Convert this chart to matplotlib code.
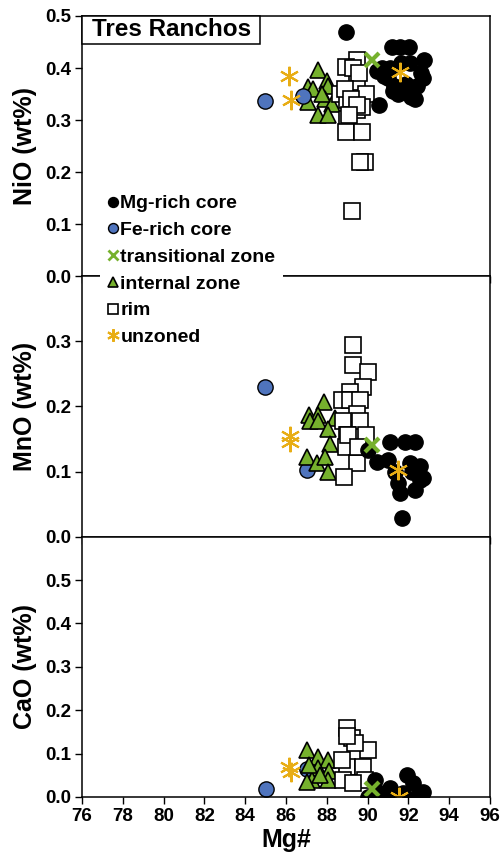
import numpy as np
import matplotlib
matplotlib.use("Agg")
import matplotlib.pyplot as plt
from matplotlib.lines import Line2D
from matplotlib.patches import Rectangle

plt.rcParams['font.family'] = ['Liberation Sans', 'DejaVu Sans']
plt.rcParams['font.weight'] = 'bold'

# ---- NiO vs Mg# ----
nio_mg_x = [88.95, 91.2, 91.6, 92.05, 92.75, 90.45, 90.7, 91.1, 91.65, 92.1, 92.6, 92.7,
            91.3, 91.9, 92.4, 91.5, 92.15, 92.3, 91.25, 90.55, 90.8, 91.0]
nio_mg_y = [0.47, 0.44, 0.44, 0.44, 0.415, 0.395, 0.40, 0.40, 0.41, 0.41, 0.39, 0.38,
            0.365, 0.37, 0.365, 0.35, 0.345, 0.34, 0.355, 0.33, 0.385, 0.38]
nio_fe_x = [84.97, 86.85]
nio_fe_y = [0.336, 0.347]
nio_tr_x = [90.2]
nio_tr_y = [0.416]
nio_int_x = [87.59, 87.99, 87.09, 88.08, 87.34, 87.09, 87.91, 88.24, 87.59, 88.08, 87.75]
nio_int_y = [0.396, 0.376, 0.363, 0.365, 0.360, 0.334, 0.341, 0.331, 0.309, 0.309, 0.35]
nio_rim_x = [89.47, 88.94, 89.47, 89.92, 88.65, 88.97, 89.47, 88.97, 89.71, 88.94, 89.71,
             89.87, 89.63, 89.22, 89.3, 89.6, 88.9, 89.2, 89.5, 89.1]
nio_rim_y = [0.415, 0.403, 0.373, 0.351, 0.351, 0.338, 0.319, 0.303, 0.325, 0.277, 0.277,
             0.219, 0.219, 0.125, 0.40, 0.39, 0.36, 0.34, 0.33, 0.31]
nio_unz_x = [86.16, 86.23, 91.59]
nio_unz_y = [0.384, 0.339, 0.393]

# ---- MnO vs Mg# ----
mno_mg_x = [90.04, 91.1, 91.83, 92.32, 90.45, 91.01, 92.08, 92.57, 92.73, 92.16, 91.5,
            92.32, 91.59, 92.57, 91.67, 91.34]
mno_mg_y = [0.133, 0.146, 0.146, 0.146, 0.115, 0.118, 0.113, 0.108, 0.090, 0.100, 0.082,
            0.072, 0.067, 0.087, 0.029, 0.100]
mno_fe_x = [84.97, 87.05]
mno_fe_y = [0.230, 0.103]
mno_tr_x = [90.2]
mno_tr_y = [0.141]
mno_int_x = [87.86, 87.14, 87.55, 87.18, 87.59, 88.4, 88.07, 88.16, 87.01, 87.5, 87.91, 88.07]
mno_int_y = [0.207, 0.187, 0.187, 0.177, 0.177, 0.182, 0.166, 0.143, 0.123, 0.113, 0.123, 0.100]
mno_rim_x = [89.3, 89.3, 90.0, 89.79, 89.14, 88.73, 89.14, 89.63, 89.5, 88.8, 89.63, 88.97,
             89.92, 88.94, 89.5, 88.84, 89.06, 89.54]
mno_rim_y = [0.295, 0.263, 0.253, 0.230, 0.222, 0.210, 0.210, 0.210, 0.189, 0.177, 0.177,
             0.156, 0.156, 0.138, 0.113, 0.091, 0.156, 0.138]
mno_unz_x = [86.18, 86.22, 91.5]
mno_unz_y = [0.155, 0.145, 0.103]

# ---- CaO vs Mg# ----
cao_mg_x = [90.04, 90.36, 91.1, 91.92, 92.24, 92.73, 90.93, 91.75, 92.4, 90.6]
cao_mg_y = [0.001, 0.039, 0.020, 0.051, 0.032, 0.012, 0.001, 0.009, 0.001, 0.009]
cao_fe_x = [85.0, 87.01]
cao_fe_y = [0.019, 0.064]
cao_tr_x = [90.2]
cao_tr_y = [0.018]
cao_int_x = [87.01, 87.59, 88.08, 87.59, 88.12, 87.26, 87.01, 88.08, 87.67, 87.14]
cao_int_y = [0.109, 0.093, 0.086, 0.066, 0.059, 0.039, 0.035, 0.039, 0.051, 0.074]
cao_rim_x = [88.97, 89.22, 90.04, 89.38, 88.97, 89.79, 88.81, 89.87, 88.73, 89.3, 88.97]
cao_rim_y = [0.159, 0.136, 0.109, 0.124, 0.070, 0.070, 0.039, 0.039, 0.086, 0.032, 0.140]
cao_unz_x = [86.15, 86.25, 91.54]
cao_unz_y = [0.068, 0.058, 0.001]

labels = ['Mg-rich core', 'Fe-rich core', 'transitional zone', 'internal zone', 'rim', 'unzoned']

blue = '#4f74bd'
green = '#76b12d'
gold = '#e8ad14'
asterisk = (6, 2, 0)

styles = {
    'mg': dict(marker='o', ms=11, mfc='black', mec='black', mew=1),
    'fe': dict(marker='o', ms=11, mfc=blue, mec='black', mew=1),
    'tr': dict(marker='x', ms=10, mfc=green, mec=green, mew=3),
    'int': dict(marker='^', ms=11, mfc=green, mec='black', mew=1.2),
    'rim': dict(marker='s', ms=12, mfc='white', mec='black', mew=1.2),
    'unz': dict(marker=asterisk, ms=14, mfc=gold, mec=gold, mew=1.5),
}

panels = [
    ('NiO (wt%)', (0, 0.5), [0.0, 0.1, 0.2, 0.3, 0.4, 0.5],
     [('int', nio_int_x, nio_int_y), ('fe', nio_fe_x, nio_fe_y), ('rim', nio_rim_x, nio_rim_y),
      ('mg', nio_mg_x, nio_mg_y), ('tr', nio_tr_x, nio_tr_y), ('unz', nio_unz_x, nio_unz_y)]),
    ('MnO (wt%)', (0, 0.4), [0.0, 0.1, 0.2, 0.3],
     [('fe', mno_fe_x, mno_fe_y), ('int', mno_int_x, mno_int_y), ('rim', mno_rim_x, mno_rim_y),
      ('mg', mno_mg_x, mno_mg_y), ('tr', mno_tr_x, mno_tr_y), ('unz', mno_unz_x, mno_unz_y)]),
    ('CaO (wt%)', (0, 0.6), [0.0, 0.1, 0.2, 0.3, 0.4, 0.5],
     [('fe', cao_fe_x, cao_fe_y), ('int', cao_int_x, cao_int_y), ('rim', cao_rim_x, cao_rim_y),
      ('mg', cao_mg_x, cao_mg_y), ('tr', cao_tr_x, cao_tr_y), ('unz', cao_unz_x, cao_unz_y)]),
]

fig = plt.figure(figsize=(5.02, 8.6), dpi=100)
left, width = 82 / 502, 408 / 502
top_px, bot_px = 16, 797
h = (bot_px - top_px) / 3 / 860

axes = []
for i, (ylabel, ylim, yticks, series) in enumerate(panels):
    y0 = 1 - (top_px / 860) - (i + 1) * h
    ax = fig.add_axes([left, y0, width, h])
    for key, xs, ys in series:
        ax.plot(xs, ys, ls='none', **styles[key])
    ax.set_xlim(76, 96)
    ax.set_ylim(*ylim)
    ax.set_xticks(np.arange(76, 97, 2))
    ax.set_yticks(yticks)
    ax.set_yticklabels([f'{t:.1f}' for t in yticks])
    ax.set_ylabel(ylabel, fontsize=18, fontweight='bold', labelpad=6)
    ax.tick_params(direction='out', length=5, width=1, labelsize=13.5, pad=3)
    if i < 2:
        ax.tick_params(axis='x', labelbottom=False)
    for sp in ax.spines.values():
        sp.set_linewidth(1.1)
    axes.append(ax)

axes[-1].set_xlabel('Mg#', fontsize=18, fontweight='bold', labelpad=2)

# site name box in the upper-left corner of the NiO panel
ax0 = axes[0]
box_w = (260 - 82) / 408
box_h = 28 / (h * 860)
ax0.add_patch(Rectangle((0, 1 - box_h), box_w, box_h, transform=ax0.transAxes,
                        fc='white', ec='black', lw=1.1, zorder=5, clip_on=False))
ax0.text(10 / 408, 1 - box_h / 2, 'Tres Ranchos', transform=ax0.transAxes, ha='left',
         va='center', fontsize=17.5, fontweight='bold', zorder=6)

keys = ['mg', 'fe', 'tr', 'int', 'rim', 'unz']
handles = []
for k in keys:
    st = dict(styles[k])
    st['ms'] = st['ms'] * 0.65
    if k == 'tr':
        st['mew'] = 2
    handles.append(Line2D([], [], ls='none', **st))
fig.legend(handles, labels, loc='upper left', bbox_to_anchor=(100 / 502, 1 - 187 / 860),
           frameon=True, facecolor='white', edgecolor='none', framealpha=1,
           prop={'weight': 'bold', 'size': 14}, handlelength=0.5,
           handletextpad=0.15, labelspacing=0.47, borderpad=0.4, borderaxespad=0)

fig.savefig('out.png', dpi=100)
